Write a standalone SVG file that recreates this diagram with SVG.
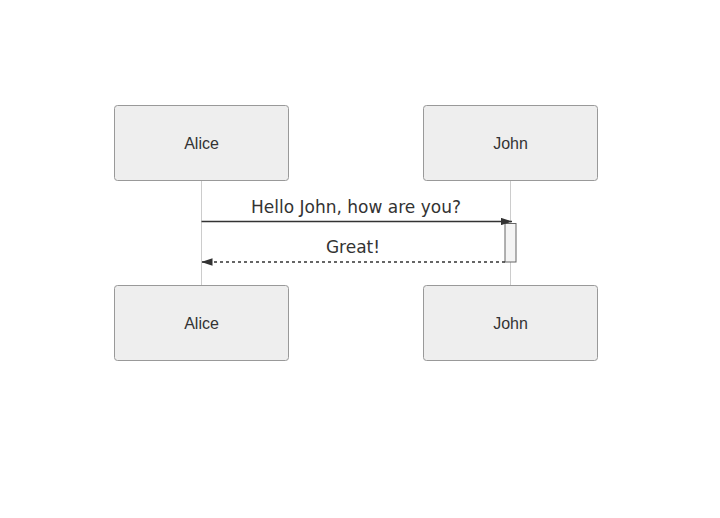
<svg xmlns="http://www.w3.org/2000/svg" width="720" height="518" viewBox="0 0 720 518">
<style>
.actor{fill:#eeeeee;stroke:#999999;stroke-width:1}
.atext{font-family:"Liberation Sans",Arial,sans-serif;font-size:16px;fill:#333333;text-anchor:middle;dominant-baseline:central}
.life{stroke:#999999;stroke-width:0.5;fill:none}
.msg{stroke:#333333;stroke-width:1.5;fill:none}
.mtext{font-family:"DejaVu Sans",sans-serif;font-size:17px;fill:#333333;text-anchor:middle}
.act{fill:#f4f4f4;stroke:#666666;stroke-width:1}
</style>
<defs>
<marker id="arrow" viewBox="0 0 12 8" refX="12" refY="4" markerWidth="11" markerHeight="7.5" markerUnits="userSpaceOnUse" orient="auto">
<path d="M0,0 L12,4 L0,8 z" fill="#333333"/>
</marker>
</defs>
<rect width="720" height="518" fill="#ffffff"/>
<g id="lifelines">
<line class="life" x1="201.5" y1="180" x2="201.5" y2="285"/>
<line class="life" x1="510.5" y1="180" x2="510.5" y2="285"/>
</g>
<g id="activation">
<rect class="act" x="505" y="223.5" width="11" height="38.5"/>
</g>
<g id="connectors">
<line class="msg" x1="201.5" y1="221.5" x2="512" y2="221.5" marker-end="url(#arrow)"/>
<line class="msg" x1="505" y1="262" x2="201.5" y2="262" stroke-dasharray="3,3" marker-end="url(#arrow)"/>
<text class="mtext" x="356" y="213">Hello John, how are you?</text>
<text class="mtext" x="353" y="253">Great!</text>
</g>
<g id="alice-top">
<rect class="actor" x="114.5" y="105.5" width="174" height="75" rx="3"/>
<text class="atext" x="201.5" y="143">Alice</text>
</g>
<g id="john-top">
<rect class="actor" x="423.5" y="105.5" width="174" height="75" rx="3"/>
<text class="atext" x="510.5" y="143">John</text>
</g>
<g id="alice-bottom">
<rect class="actor" x="114.5" y="285.5" width="174" height="75" rx="3"/>
<text class="atext" x="201.5" y="323">Alice</text>
</g>
<g id="john-bottom">
<rect class="actor" x="423.5" y="285.5" width="174" height="75" rx="3"/>
<text class="atext" x="510.5" y="323">John</text>
</g>
</svg>
